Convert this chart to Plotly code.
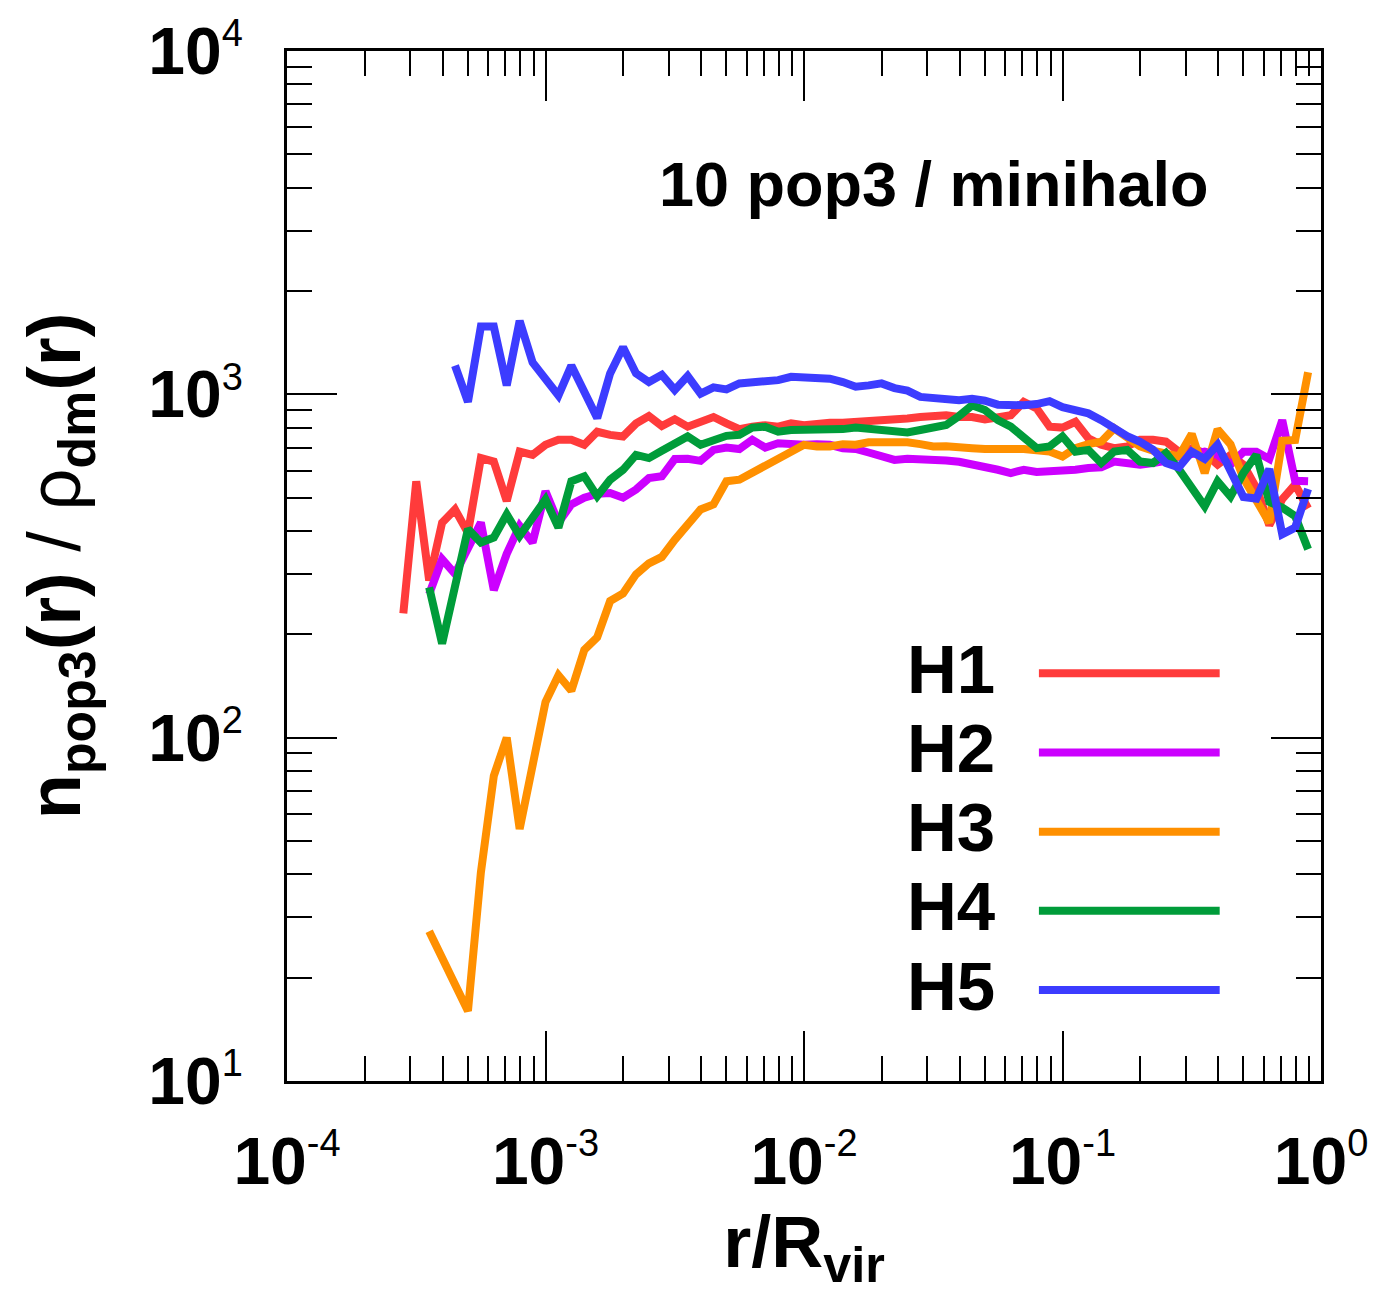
import plotly.graph_objects as go

# log10(r/Rvir) bin centres
LOG_R = [-3.55, -3.50, -3.45, -3.40, -3.35, -3.30, -3.25, -3.20, -3.15, -3.10,
         -3.05, -3.00, -2.95, -2.90, -2.85, -2.80, -2.75, -2.70, -2.65, -2.60,
         -2.55, -2.50, -2.45, -2.40, -2.35, -2.30, -2.25, -2.20, -2.15, -2.10,
         -2.05, -2.00, -1.95, -1.90, -1.85, -1.80, -1.75, -1.70, -1.65, -1.60,
         -1.55, -1.50, -1.45, -1.40, -1.35, -1.30, -1.25, -1.20, -1.15, -1.10,
         -1.05, -1.00, -0.95, -0.90, -0.85, -0.80, -0.75, -0.70, -0.65, -0.60,
         -0.55, -0.50, -0.45, -0.40, -0.35, -0.30, -0.25, -0.20, -0.15, -0.10,
         -0.05]

H1 = [230, 558, 287, 423, 462, 395, 652, 637, 489, 681,
      666, 713, 737, 737, 713, 778, 762, 754, 822, 864,
      809, 846, 805, 832, 859, 823, 792, 805, 813, 805,
      823, 813, 823, 827, 827, 832, 836, 832, 841, 851,
      859, 865, 869, 859, 859, 845, 859, 869, 951, 910,
      805, 800, 832, 745, 713, 697, 705, 737, 737, 728,
      681, 697, 674, 624, 666, 624, 533, 416, 495, 546,
      465]

H2 = [None, None,
      262, 331, 300, None, 423, 269, 343, 414, 370, 522,
      423, 478, 500, 513, 516, 500, 528, 570, 577, 648,
      649, 640, 689, 700, 693, 737, 700, 720, 713, 713,
      716, 713, 697, 693, 677, 659, 644, 649, 649, 644,
      642, 636, 627, 618, 603, 590, 603, 594, 596, 596,
      603, 610, 613, 637, 631, 624, 631, 640, 659, 674,
      681, 666, 624, 680, 680, 648, 841, 560, 558]

H3 = [None, None,
      27.3, None, None, 16.0, 40.5, 77.4, 100, 54.2, None, 127,
      152, 137, 180, 196, 250, 263, 299, 322, 336, 377,
      418, 462, 478, 558, 564, 590, 617, 644, 674, 713,
      705, 705, 716, 713, 725, 728, 731, 725, 716, 705,
      706, 705, 697, 693, 697, 693, 693, 690, 681, 659,
      697, 716, 728, 796, 745, 705, 685, 670, 659, 766,
      590, 791, 715, 570, 492, 423, 732, 736, 1159]

H4 = [None, None,
      274, 188, None, 405, 370, 383, 447, 387, 438, 494,
      409, 558, 577, 505, 564, 603, 666, 652, 685, 720,
      754, 713, 737, 757, 762, 800, 805, 778, 787, 787,
      787, 787, 792, 800, 792, 787, 782, 774, 787, 800,
      814, 865, 929, 900, 841, 805, 754, 697, 705, 754,
      681, 689, 631, 681, 689, 637, 631, 674, 605, 540,
      472, 558, 504, 590, 666, 486, 468, 442, 354]

H5 = [None, None, None, None,
      1213, 951, 1575, 1575, 1062, 1637, 1239, None, 993, 1213,
      None, 853, 1151, 1371, 1151, 1086, 1140, 1030, 1130, 1005,
      1048, 1034, 1076, 1086, 1086, 1100, 1125, 1118, 1111, 1111,
      1086, 1052, 1062, 1076, 1043, 1025, 983, 977, 972, 961,
      970, 958, 933, 929, 929, 937, 955, 918, 899, 880,
      841, 796, 755, 727, 690, 631, 613, 681, 648, 713,
      596, 502, 497, 606, 391, 409, 530]

SERIES = ["H1", "H2", "H3", "H4", "H5"]
COLORS = ["#ff3b3b", "#cc00ff", "#ff9000", "#009c3a", "#3c3cff"]
VALUES = [H1, H2, H3, H4, H5]

X_TICK_EXP = [-4, -3, -2, -1, 0]
Y_TICK_EXP = [1, 2, 3, 4]

FONT = "Liberation Sans, Arial, Helvetica, sans-serif"

r = [10 ** v for v in LOG_R]

fig = go.Figure()
for name, col, vals in zip(SERIES, COLORS, VALUES):
    fig.add_trace(go.Scatter(x=r, y=vals, mode="lines", name=name,
                             line=dict(color=col, width=8),
                             connectgaps=True, showlegend=False))


def tick_label(e):
    return "<b>10</b><sup><span style='font-size:38px'>%d</span></sup>" % e


x_minor = [m * 10 ** e for e in range(-4, 0) for m in range(2, 10)]
y_minor = [m * 10 ** e for e in range(1, 4) for m in range(2, 10)]

axis_common = dict(
    showline=True, linewidth=3, linecolor="black", mirror="allticks",
    ticks="inside", ticklen=50, tickwidth=2, tickcolor="black",
    showgrid=False, zeroline=False,
    tickfont=dict(family=FONT, size=66, color="black"),
)

fig.update_xaxes(
    type="log", range=[-4, 0],
    tickmode="array", tickvals=[10 ** e for e in X_TICK_EXP],
    ticktext=[tick_label(e) for e in X_TICK_EXP],
    minor=dict(tickmode="array", tickvals=x_minor, ticks="inside",
               ticklen=25, tickwidth=2, tickcolor="black", showgrid=False),
    ticklabelstandoff=21,
    title=dict(text="<b>r/R</b><sub><b>vir</b></sub>", standoff=20,
               font=dict(family=FONT, size=72, color="black")),
    **axis_common,
)
fig.update_yaxes(
    type="log", range=[1, 4],
    tickmode="array", tickvals=[10 ** e for e in Y_TICK_EXP],
    ticktext=[tick_label(e) for e in Y_TICK_EXP],
    minor=dict(tickmode="array", tickvals=y_minor, ticks="inside",
               ticklen=25, tickwidth=2, tickcolor="black", showgrid=False),
    ticklabelstandoff=28,
    title=dict(text="<b>n</b><sub><b>pop3</b></sub><b>(r)</b> / ρ<sub><b>dm</b></sub><b>(r)</b>",
               standoff=44, font=dict(family=FONT, size=74, color="black")),
    **axis_common,
)

# in-plot legend: label text on the left, sample line on the right
LEG_Y_PX = [669, 749, 829, 909, 989]
PLOT_L, PLOT_R, PLOT_T, PLOT_B = 287, 1328, 40, 1081


def px_to_paper_x(px):
    return (px - PLOT_L) / (PLOT_R - PLOT_L)


def px_to_paper_y(py):
    return (PLOT_B - py) / (PLOT_B - PLOT_T)


for name, col, ly in zip(SERIES, COLORS, LEG_Y_PX):
    fig.add_annotation(xref="paper", yref="paper", x=px_to_paper_x(909),
                       y=px_to_paper_y(ly - 4), xanchor="left", yanchor="middle",
                       text="<b>%s</b>" % name, showarrow=False,
                       font=dict(family=FONT, size=69, color="black"))
    fig.add_shape(type="line", xref="paper", yref="paper",
                  x0=px_to_paper_x(1044), x1=px_to_paper_x(1226),
                  y0=px_to_paper_y(ly), y1=px_to_paper_y(ly),
                  line=dict(color=col, width=8))

fig.add_annotation(xref="paper", yref="paper", x=px_to_paper_x(938),
                   y=px_to_paper_y(174), xanchor="center", yanchor="middle",
                   text="<b>10 pop3 / minihalo</b>", showarrow=False,
                   font=dict(family=FONT, size=63, color="black"))

fig.update_layout(
    width=1380, height=1302,
    margin=dict(l=PLOT_L, r=1380 - PLOT_R, t=PLOT_T, b=1302 - PLOT_B),
    paper_bgcolor="white", plot_bgcolor="white",
    showlegend=False,
)

fig.write_html("out.html")
